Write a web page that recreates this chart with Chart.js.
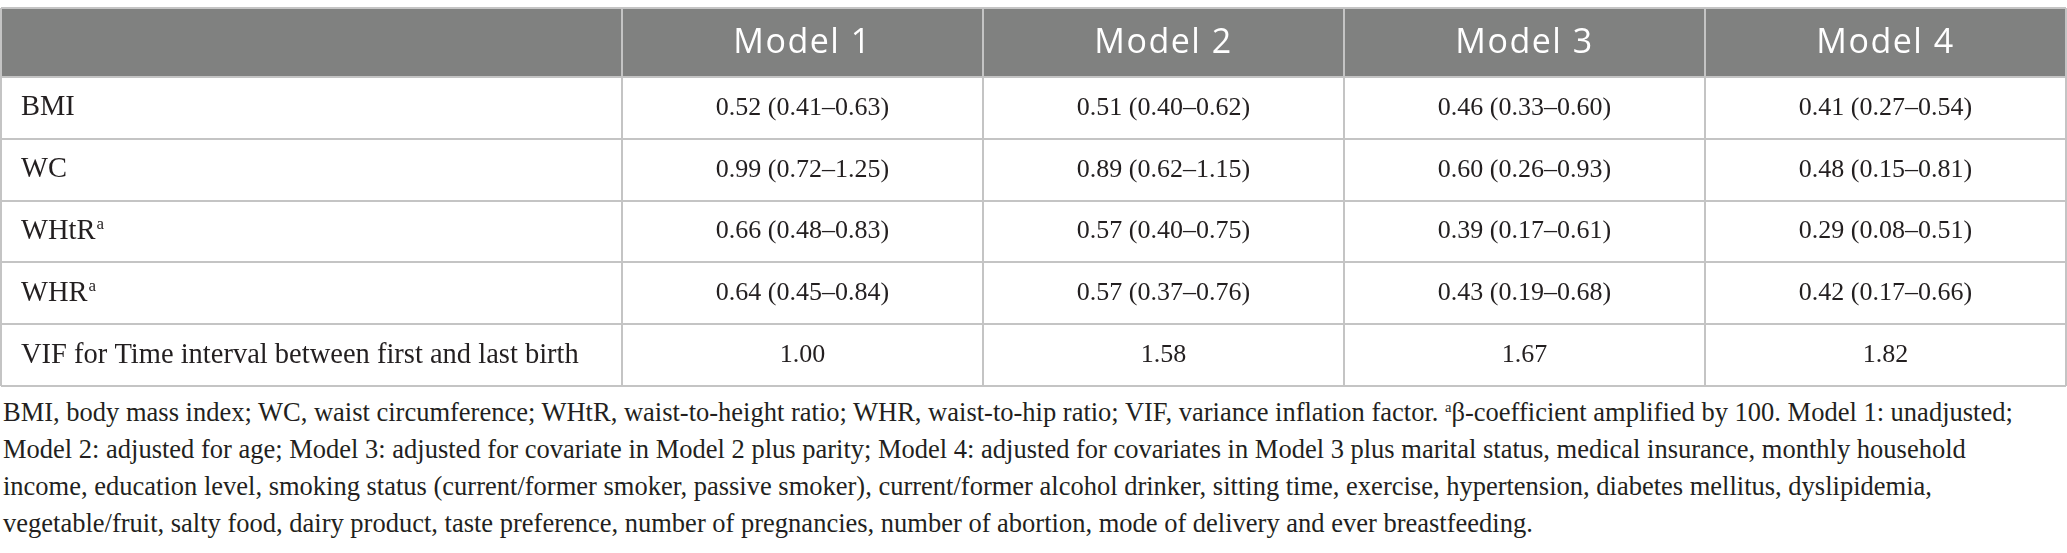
<!DOCTYPE html>
<html>
<head>
<meta charset="utf-8">
<script src="https://cdn.jsdelivr.net/npm/chart.js@4.4.1/dist/chart.umd.min.js"></script>
<style>
  html, body { margin: 0; padding: 0; background: #fff; }
  #wrap { position: relative; width: 2067px; height: 388px; }
  #note {
    font-family: "Liberation Serif", serif;
    font-size: 26.5px;
    line-height: 37px;
    color: #231f20;
    margin: 6px 0 0 3px;
    white-space: nowrap;
  }
  #note sup { font-size: 0.55em; vertical-align: 0.65em; line-height: 0; }
</style>
</head>
<body>
<div id="wrap"><canvas id="myChart"></canvas></div>
<div id="note">
BMI, body mass index; WC, waist circumference; WHtR, waist-to-height ratio; WHR, waist-to-hip ratio; VIF, variance inflation factor. <sup>a</sup>β-coefficient amplified by 100. Model 1: unadjusted;<br>
Model 2: adjusted for age; Model 3: adjusted for covariate in Model 2 plus parity; Model 4: adjusted for covariates in Model 3 plus marital status, medical insurance, monthly household<br>
income, education level, smoking status (current/former smoker, passive smoker), current/former alcohol drinker, sitting time, exercise, hypertension, diabetes mellitus, dyslipidemia,<br>
vegetable/fruit, salty food, dairy product, taste preference, number of pregnancies, number of abortion, mode of delivery and ever breastfeeding.
</div>
<script>
// columns and rows
const models = ["Model 1", "Model 2", "Model 3", "Model 4"];
const rowNames = ["BMI", "WC", "WHtR", "WHR", "VIF for Time interval between first and last birth"];
const rowSup = ["", "", "a", "a", ""];

// beta (95% CI) per model
const bmiBeta = [0.52, 0.51, 0.46, 0.41];
const bmiLow = [0.41, 0.40, 0.33, 0.27];
const bmiHigh = [0.63, 0.62, 0.60, 0.54];

const wcBeta = [0.99, 0.89, 0.60, 0.48];
const wcLow = [0.72, 0.62, 0.26, 0.15];
const wcHigh = [1.25, 1.15, 0.93, 0.81];

const whtrBeta = [0.66, 0.57, 0.39, 0.29];
const whtrLow = [0.48, 0.40, 0.17, 0.08];
const whtrHigh = [0.83, 0.75, 0.61, 0.51];

const whrBeta = [0.64, 0.57, 0.43, 0.42];
const whrLow = [0.45, 0.37, 0.19, 0.17];
const whrHigh = [0.84, 0.76, 0.68, 0.66];

const vif = [1.00, 1.58, 1.67, 1.82];

const headerColor = "#808180";
const gridColor = "#c4c4c4";
const textColor = "#231f20";
const serif = '"Liberation Serif", "Times New Roman", serif';
const sans = '"Open Sans", "Noto Sans", sans-serif';

function ci(b, lo, hi) {
  return b.map((v, i) => v.toFixed(2) + " (" + lo[i].toFixed(2) + "\u2013" + hi[i].toFixed(2) + ")");
}

const cells = [
  ci(bmiBeta, bmiLow, bmiHigh),
  ci(wcBeta, wcLow, wcHigh),
  ci(whtrBeta, whtrLow, whtrHigh),
  ci(whrBeta, whrLow, whrHigh),
  vif.map(v => v.toFixed(2)),
];

const tablePlugin = {
  id: "tableText",
  beforeDraw(chart) {
    const { ctx, scales: { x, y } } = chart;
    ctx.save();
    ctx.fillStyle = headerColor;
    ctx.fillRect(y.left, x.top, x.right - y.left, x.bottom - x.top);
    ctx.restore();
  },
  afterDraw(chart) {
    const { ctx, scales: { x, y } } = chart;
    ctx.save();

    // header
    ctx.fillStyle = "#ffffff";
    ctx.font = "400 34px " + sans;
    ctx.letterSpacing = "1.5px";
    ctx.textAlign = "center";
    ctx.textBaseline = "middle";
    const hy = (x.top + x.bottom) / 2 + 1;
    models.forEach((m, i) => ctx.fillText(m, x.getPixelForValue(i), hy));
    ctx.letterSpacing = "0px";

    // row labels
    ctx.fillStyle = textColor;
    ctx.textAlign = "left";
    rowNames.forEach((r, i) => {
      const py = y.getPixelForValue(i);
      ctx.font = "28.5px " + serif;
      ctx.fillText(r, y.left + 20, py);
      if (rowSup[i]) {
        const w = ctx.measureText(r).width;
        ctx.font = "17px " + serif;
        ctx.fillText(rowSup[i], y.left + 21 + w, py - 7);
      }
    });

    // values
    ctx.font = "26px " + serif;
    ctx.textAlign = "center";
    cells.forEach((row, r) => {
      row.forEach((txt, c) => {
        ctx.fillText(txt, x.getPixelForValue(c), y.getPixelForValue(r));
      });
    });

    // outer left and top border
    ctx.strokeStyle = gridColor;
    ctx.lineWidth = 2;
    ctx.beginPath();
    ctx.moveTo(y.left, x.top);
    ctx.lineTo(y.left, y.bottom);
    ctx.moveTo(y.left, x.top);
    ctx.lineTo(x.right, x.top);
    ctx.stroke();
    ctx.restore();
  }
};

const myChart = new Chart(document.getElementById("myChart"), {
  type: "line",
  data: { labels: models, datasets: [] },
  options: {
    responsive: true,
    maintainAspectRatio: false,
    animation: false,
    layout: { padding: { top: 8, left: 1, right: 1, bottom: 2 } },
    plugins: { legend: { display: false }, tooltip: { enabled: false } },
    scales: {
      x: {
        type: "category",
        labels: models,
        position: "top",
        offset: true,
        grid: { offset: true, color: gridColor, lineWidth: 2, tickLength: 69 },
        border: { display: false },
        ticks: { display: false },
        afterFit: (s) => { s.height = 69; },
      },
      y: {
        type: "category",
        labels: rowNames,
        position: "left",
        offset: true,
        grid: { offset: true, color: gridColor, lineWidth: 2, tickLength: 621 },
        border: { display: false },
        ticks: { display: false },
        afterFit: (s) => { s.width = 621; },
      },
    },
  },
  plugins: [tablePlugin],
});
</script>
</body>
</html>
